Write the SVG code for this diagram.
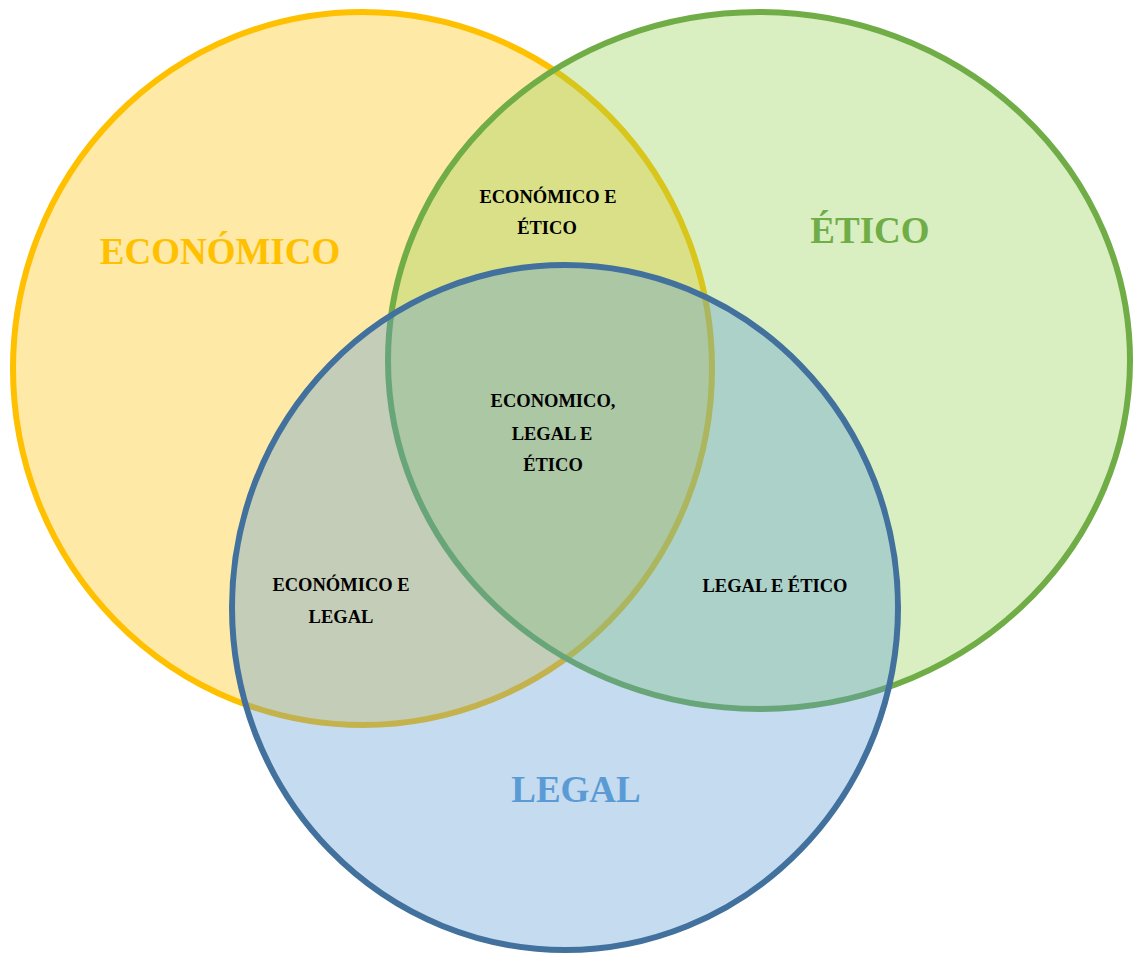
<svg xmlns="http://www.w3.org/2000/svg" width="1134" height="956" viewBox="0 0 1134 956">
  <style>
    .set { stroke-width: 6; }
    .big { font-family: "Liberation Serif", "Times New Roman", serif; font-weight: bold; font-size: 37px; text-anchor: middle; }
    .small { font-family: "Liberation Serif", "Times New Roman", serif; font-weight: bold; font-size: 18.5px; text-anchor: middle; fill: #000; }
  </style>
  <rect width="1134" height="956" fill="#ffffff"/>
  <g id="economico">
    <ellipse class="set" cx="362.5" cy="368.5" rx="349.5" ry="356.5" fill="#FFC000" fill-opacity="0.35" stroke="#FFC000"/>
  </g>
  <g id="etico">
    <ellipse class="set" cx="759" cy="360.5" rx="371" ry="348.5" fill="#92D050" fill-opacity="0.35" stroke="#70AD47"/>
  </g>
  <g id="legal">
    <ellipse class="set" cx="565" cy="607.5" rx="333" ry="342.5" fill="#5B9BD5" fill-opacity="0.36" stroke="#41719C"/>
  </g>
  <g id="labels">
    <text class="big" x="220" y="264" fill="#FFC000">ECONÓMICO</text>
    <text class="big" x="870" y="243" fill="#70AD47">ÉTICO</text>
    <text class="big" x="576" y="802" fill="#5B9BD5">LEGAL</text>
  </g>
  <g id="econ-etico">
    <text class="small" x="548" y="203">ECONÓMICO E</text>
    <text class="small" x="547" y="234">ÉTICO</text>
  </g>
  <g id="econ-legal-etico">
    <text class="small" x="553" y="407">ECONOMICO,</text>
    <text class="small" x="552" y="440">LEGAL E</text>
    <text class="small" x="553" y="471">ÉTICO</text>
  </g>
  <g id="econ-legal">
    <text class="small" x="341" y="591">ECONÓMICO E</text>
    <text class="small" x="341" y="623">LEGAL</text>
  </g>
  <g id="legal-etico">
    <text class="small" x="775" y="592">LEGAL E ÉTICO</text>
  </g>
  <g id="connectors"></g>
</svg>
